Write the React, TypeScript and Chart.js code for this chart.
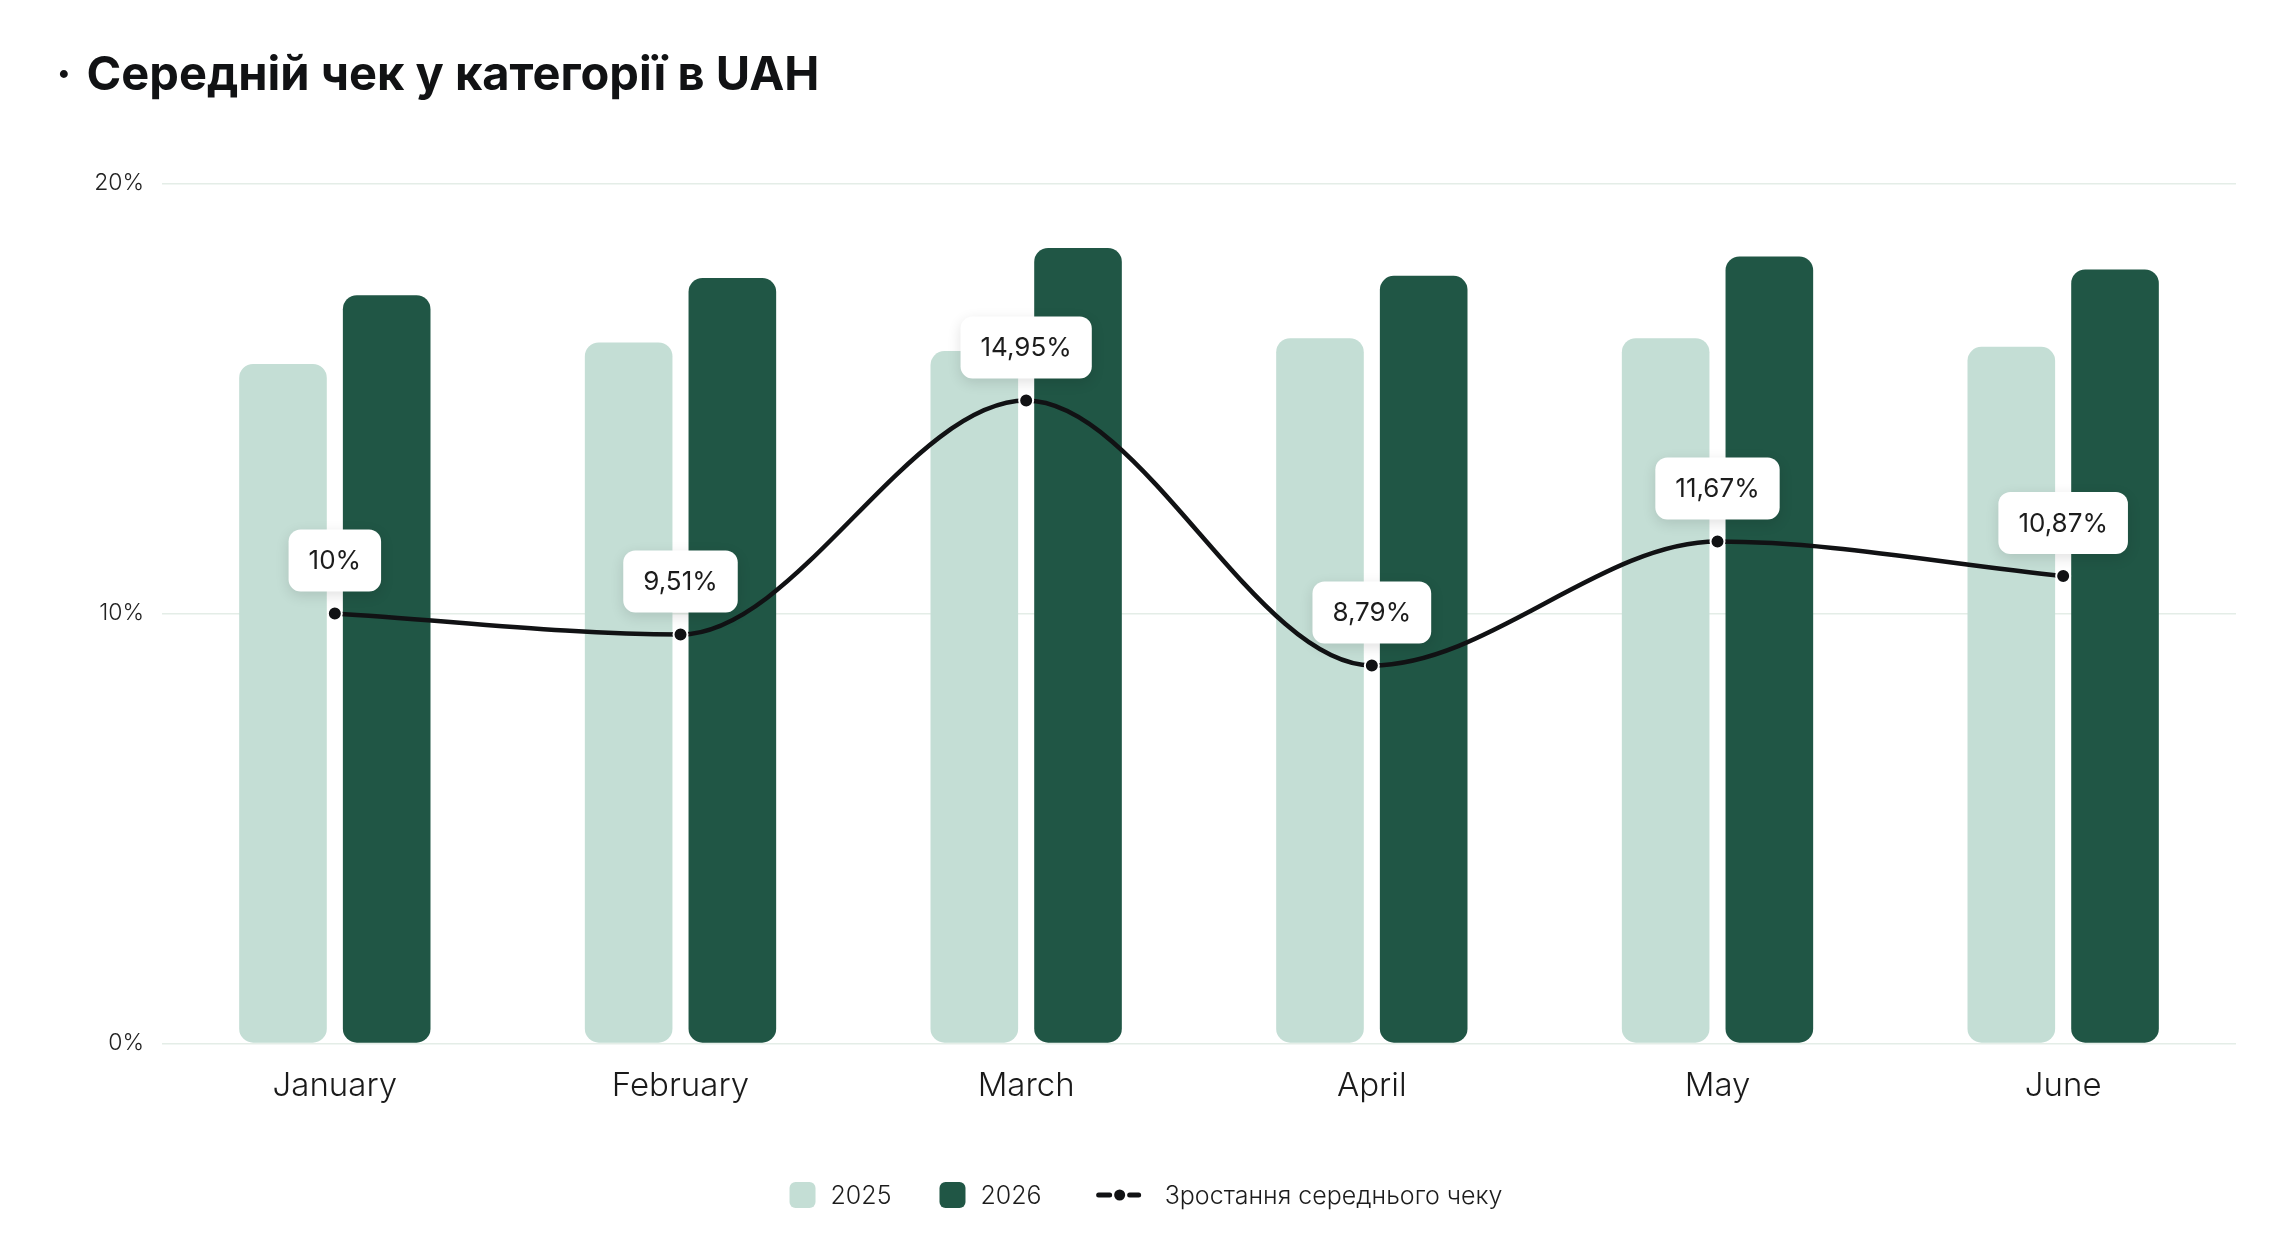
import { useEffect, useRef } from "react"
import { Chart, registerables } from "chart.js"

Chart.register(...registerables)

const titleText = "· \u200AСередній чек у категорії в UAH"
const months = ["January", "February", "March", "April", "May", "June"]
const values2025 = [15.8, 16.3, 16.1, 16.4, 16.4, 16.2]
const values2026 = [17.4, 17.8, 18.5, 17.85, 18.3, 18.0]
const growth = [10, 9.51, 14.95, 8.79, 11.67, 10.87]
const seriesNames = ["2025", "2026", "Зростання середнього чеку"]

const LIGHT = "#c4ded5"
const DARK = "#205645"
const INK = "#111214"
const FONT = "Inter, 'Noto Sans', sans-serif"

const fmt = (v: number) => String(v).replace(".", ",") + "%"

// Підписи над точками лінії
const growthLabels = {
  id: "growthLabels",
  afterDatasetsDraw(chart: any) {
    const meta = chart.getDatasetMeta(2)
    const ctx = chart.ctx
    ctx.save()
    ctx.font = `400 26px ${FONT}`
    meta.data.forEach((pt: any, i: number) => {
      const text = fmt(growth[i])
      const w = ctx.measureText(text).width + 40
      const h = 62
      const x = pt.x - w / 2
      const y = pt.y - 22 - h
      ctx.shadowColor = "rgba(0, 0, 0, 0.12)"
      ctx.shadowBlur = 14
      ctx.shadowOffsetY = 4
      ctx.fillStyle = "#ffffff"
      ctx.beginPath()
      ctx.roundRect(x, y, w, h, 12)
      ctx.fill()
      ctx.shadowColor = "transparent"
      ctx.fillStyle = "#1c1c1c"
      ctx.textAlign = "center"
      ctx.textBaseline = "middle"
      ctx.fillText(text, pt.x, y + h / 2 + 1)
    })
    ctx.restore()
  },
}

// Легенда внизу
const bottomLegend = {
  id: "bottomLegend",
  afterDraw(chart: any) {
    const ctx = chart.ctx
    ctx.save()
    ctx.font = `300 25px ${FONT}`
    const tw = seriesNames.map((s) => ctx.measureText(s).width)
    const total = 26 + 15 + tw[0] + 48 + 26 + 15 + tw[1] + 54 + 46 + 23 + tw[2]
    let x = chart.width / 2 - total / 2 - 2
    const cy = chart.height - 43
    ctx.textBaseline = "middle"
    ctx.textAlign = "left"
    ;[LIGHT, DARK].forEach((c, i) => {
      ctx.fillStyle = c
      ctx.beginPath()
      ctx.roundRect(x, cy - 13, 26, 26, 6)
      ctx.fill()
      x += 26 + 15
      ctx.fillStyle = "#1c1c1c"
      ctx.fillText(seriesNames[i], x, cy + 1)
      x += tw[i] + (i === 0 ? 48 : 54)
    })
    ctx.strokeStyle = INK
    ctx.lineWidth = 5
    ctx.lineCap = "round"
    ctx.beginPath()
    ctx.moveTo(x + 3, cy)
    ctx.lineTo(x + 14, cy)
    ctx.moveTo(x + 34, cy)
    ctx.lineTo(x + 43, cy)
    ctx.stroke()
    ctx.fillStyle = INK
    ctx.beginPath()
    ctx.arc(x + 24, cy, 5.5, 0, Math.PI * 2)
    ctx.fill()
    x += 46 + 23
    ctx.fillStyle = "#1c1c1c"
    ctx.fillText(seriesNames[2], x, cy + 1)
    ctx.restore()
  },
}

export default function App() {
  const chartRef = useRef<HTMLCanvasElement>(null)
  const chartInstance = useRef<Chart | null>(null)

  useEffect(() => {
    if (!chartRef.current) return
    if (chartInstance.current) chartInstance.current.destroy()
    const ctx = chartRef.current.getContext("2d")
    if (!ctx) return

    chartInstance.current = new Chart(ctx, {
      type: "bar",
      data: {
        labels: months,
        datasets: [
          {
            label: seriesNames[0],
            data: values2025,
            backgroundColor: LIGHT,
            borderRadius: 14,
            borderSkipped: false,
            barPercentage: 0.845,
            categoryPercentage: 0.6,
            order: 2,
          },
          {
            label: seriesNames[1],
            data: values2026,
            backgroundColor: DARK,
            borderRadius: 14,
            borderSkipped: false,
            barPercentage: 0.845,
            categoryPercentage: 0.6,
            order: 2,
          },
          {
            type: "line",
            label: seriesNames[2],
            data: growth,
            borderColor: INK,
            borderWidth: 4.5,
            cubicInterpolationMode: "monotone",
            pointRadius: 7,
            pointBorderWidth: 2,
            pointBackgroundColor: INK,
            pointBorderColor: "#ffffff",
            order: 0,
          } as any,
        ],
      },
      options: {
        responsive: true,
        maintainAspectRatio: false,
        animation: false,
        layout: {
          padding: { left: 48, right: 52, top: 0, bottom: 117 },
        },
        plugins: {
          legend: { display: false },
          tooltip: { enabled: false },
          title: {
            display: true,
            text: titleText,
            align: "start",
            color: INK,
            font: { family: FONT, size: 47, weight: "bold" },
            padding: { top: 40, bottom: 79 },
          },
        },
        scales: {
          x: {
            grid: { display: false },
            border: { display: false },
            ticks: {
              color: "#1a1a1a",
              padding: 15,
              font: { family: FONT, size: 33, weight: 300 },
            },
          },
          y: {
            min: 0,
            max: 20,
            afterFit(scale: any) {
              scale.width = 106
            },
            grid: { color: "#e4ede7", lineWidth: 1.5, drawTicks: false },
            border: { display: false },
            ticks: {
              stepSize: 10,
              padding: 18,
              color: "#222",
              font: { family: FONT, size: 23, weight: 300 },
              callback: (v: any) => v + "%",
            },
          },
        },
      },
      plugins: [growthLabels, bottomLegend],
    })

    return () => {
      if (chartInstance.current) {
        chartInstance.current.destroy()
        chartInstance.current = null
      }
    }
  }, [])

  return (
    <div style={{ position: "relative", width: "100%", height: 1230 }}>
      <canvas ref={chartRef}></canvas>
    </div>
  )
}
